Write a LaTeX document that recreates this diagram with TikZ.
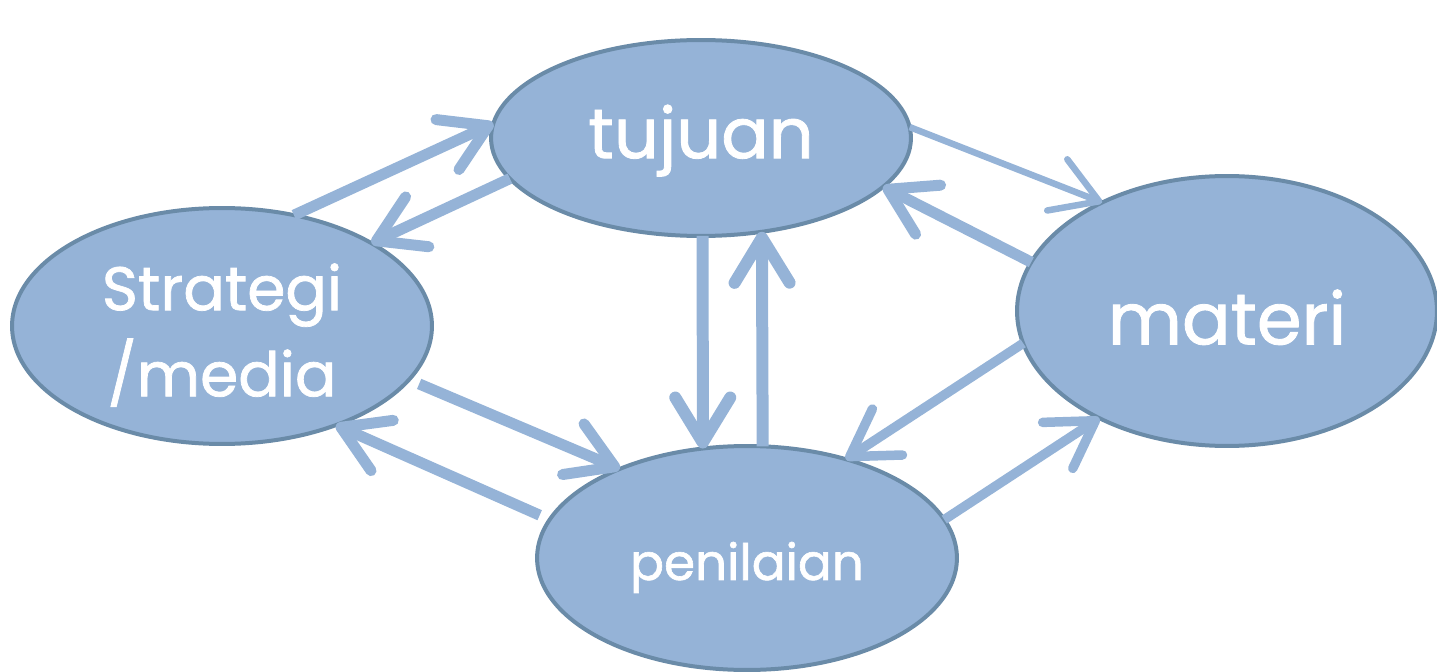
\documentclass[tikz,border=0pt]{standalone}
\usepackage{fontspec}
\setmainfont{Poppins}
\newfontfamily\bubblefont[FakeBold=1.2]{Poppins}
\usetikzlibrary{shapes.geometric,arrows.meta}
\definecolor{blob}{HTML}{95B3D7}
\definecolor{blobline}{HTML}{6A8BA8}
\begin{document}
\begin{tikzpicture}[x=0.02cm,y=-0.02cm,
  bubble/.style={ellipse, fill=blob, draw=blobline, line width=0.08cm, inner sep=0pt, outer sep=0pt, text=white, align=center},
  link/.style={draw=blob, line width=0.22cm, -{Straight Barb[round,length=0.9cm,width=1.1cm]}},
  thinlink/.style={link, line width=0.13cm}]
\useasboundingbox (0,0) rectangle (1437,672);
% the four bubbles
\node[bubble, minimum width=8.4cm, minimum height=3.92cm, font=\bubblefont\fontsize{40}{48}\selectfont](tujuan) at (701,138) {\raisebox{-11.5pt}[0pt][0pt]{tujuan}};
\node[bubble, minimum width=8.4cm, minimum height=4.72cm, font=\bubblefont\fontsize{35}{49}\selectfont](strategi) at (222,326) {\\[-12pt]Strategi\\/media};
\node[bubble, minimum width=8.4cm, minimum height=5.4cm, font=\bubblefont\fontsize{41}{48}\selectfont](materi) at (1227,311) {\raisebox{-19pt}[0pt][0pt]{materi}};
\node[bubble, minimum width=8.4cm, minimum height=4.48cm, font=\bubblefont\fontsize{28.5}{32}\selectfont](penilaian) at (747,558) {\raisebox{-12.5pt}[0pt][0pt]{penilaian}};

% arrows between them
\draw[link] (strategi.57.6) -- (tujuan.176.5);
\draw[link] (tujuan.192.9) -- (strategi.29.3);
\draw[thinlink] (tujuan.3.5) -- (materi.139.5);
\draw[link] (materi.166.9) -- (tujuan.-15.8);
\draw[link, line width=0.24cm] (tujuan.271) -- (penilaian.112);
\draw[link, line width=0.24cm] (penilaian.82) -- (tujuan.303.5);
\draw[link, shorten <=0.22cm] (strategi.-16.8) -- (penilaian.145.3);
\draw[link, shorten <=0.22cm] (penilaian.169.7) -- (strategi.-41.2);
\draw[link, line width=0.19cm] (materi.189.5) -- (penilaian.45);
\draw[link, line width=0.19cm] (penilaian.11) -- (materi.220.8);
\end{tikzpicture}
\end{document}
